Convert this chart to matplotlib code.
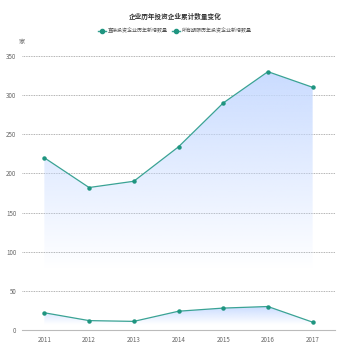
import matplotlib.pyplot as plt
import numpy as np
from matplotlib.colors import to_rgb
from matplotlib.lines import Line2D

plt.rcParams['font.family'] = ['Noto Sans CJK SC', 'DejaVu Sans']

years = ["2011", "2012", "2013", "2014", "2015", "2016", "2017"]
direct = [220, 182, 190, 234, 290, 330, 310]
all_firms = [22, 12, 11, 24, 28, 30, 10]
series_names = ["直接投资企业历年新增数量", "所有期限历年投资企业新增数量"]

line_color = "#3aa394"
marker_color = "#1f9580"
fill_color = "#c4d8ff"


def gradient_fill(ax, x, y):
    x = np.asarray(x, dtype=float)
    y = np.asarray(y, dtype=float)
    poly = ax.fill_between(x, y, 0, color="none", lw=0)
    ymax = y.max()
    rgb = to_rgb(fill_color)
    img = np.zeros((100, 1, 4))
    img[:, :, :3] = rgb
    alpha = np.clip(np.linspace(1.0, -0.3, 100), 0, 1) * 0.9
    img[:, :, 3] = alpha[:, None]
    im = ax.imshow(img, aspect="auto", extent=[x.min(), x.max(), 0, ymax],
                   origin="upper", zorder=1)
    im.set_clip_path(poly.get_paths()[0], transform=ax.transData)


fig = plt.figure(figsize=(3.5, 3.5), dpi=100)
ax = fig.add_axes([22 / 350, 20 / 350, 313 / 350, 274 / 350])

x = np.arange(len(years))
for vals in (direct, all_firms):
    gradient_fill(ax, x, vals)
    ax.plot(x, vals, color=line_color, lw=0.9, zorder=3)
    ax.plot(x, vals, "o", color=marker_color, ms=2.2, zorder=4)

ax.set_xlim(-0.5, len(years) - 0.5)
ax.set_ylim(0, 350)
ax.set_yticks(range(0, 351, 50))
ax.set_xticks(x)
ax.set_xticklabels(years)
ax.tick_params(axis="both", length=0, labelsize=4.5, labelcolor="#666666", pad=4)
ax.grid(axis="y", color="#999999", ls=(0, (1, 1)), lw=0.6)
for s in ["top", "right", "left"]:
    ax.spines[s].set_visible(False)
ax.spines["bottom"].set_color("#bbbbbb")
ax.spines["bottom"].set_linewidth(0.8)
ax.set_axisbelow(True)

ax.text(0, 1.035, "家", transform=ax.transAxes, fontsize=4.5, color="#666666",
        ha="center", va="bottom")

fig.text(0.5, 0.952, "企业历年投资企业累计数量变化", ha="center", va="center",
         fontsize=4.8, fontweight="bold", color="#333333")

handles = [Line2D([], [], color=line_color, marker="o", markersize=3,
                  markerfacecolor=marker_color, markeredgecolor=marker_color, lw=1)
           for _ in series_names]
fig.legend(handles, series_names, loc="center", bbox_to_anchor=(0.5, 0.912),
           ncol=2, frameon=False, fontsize=3.6, handlelength=1.6,
           columnspacing=0.8, handletextpad=0.4, labelcolor="#555555")

fig.savefig("out.png", dpi=100)
